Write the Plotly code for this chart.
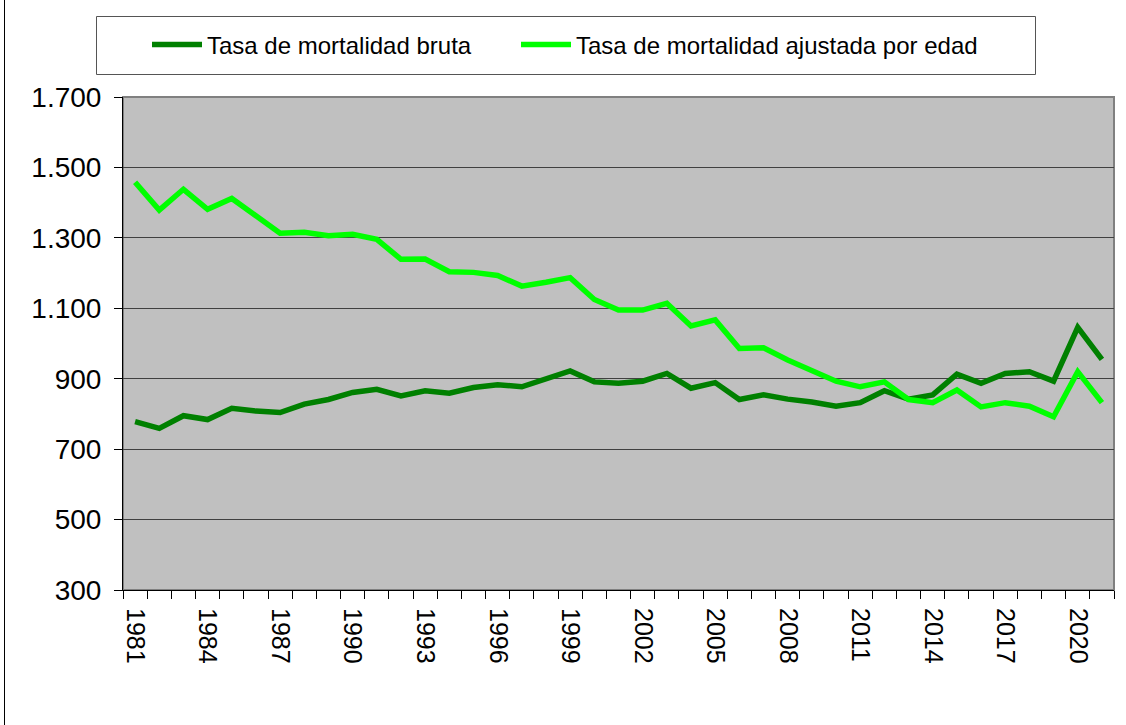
import plotly.graph_objects as go

years = list(range(1981, 2022))
tasa_bruta = [778, 759, 795, 784, 816, 808, 804, 828, 841, 861, 870, 851, 866, 859, 875, 883,
              877, 901, 922, 891, 887, 893, 915, 873, 889, 841, 854, 842, 834, 822, 832, 866,
              842, 854, 913, 887, 915, 920, 893, 1046, 955]
tasa_ajustada = [1458, 1379, 1438, 1381, 1412, 1363, 1313, 1316, 1306, 1310, 1296, 1239, 1240, 1204,
                 1202, 1193, 1163, 1174, 1187, 1125, 1095, 1095, 1114, 1050, 1067, 986, 988, 953,
                 922, 893, 877, 891, 841, 832, 868, 820, 832, 822, 792, 920, 832]
y_ticks = [300, 500, 700, 900, 1100, 1300, 1500, 1700]
x_label_years = years[::3]

W, H = 1126, 725
L, R, T, B = 123, 12, 97, 135
pw, ph = W - L - R, H - T - B

def px_x(p):
    return (p - L) / pw

def px_y(p):
    return (H - B - p) / ph

FONT = "Arial, Liberation Sans, sans-serif"
leg_common = dict(orientation="h", xanchor="left", y=px_y(45), yanchor="middle",
                  font=dict(size=24, family=FONT, color="black"),
                  bgcolor="rgba(0,0,0,0)", borderwidth=0, itemwidth=50)

fig = go.Figure()
fig.add_trace(go.Scatter(x=years, y=tasa_bruta, mode="lines", name="Tasa de mortalidad bruta",
                         line=dict(color="#008000", width=5.5), legend="legend"))
fig.add_trace(go.Scatter(x=years, y=tasa_ajustada, mode="lines", name="Tasa de mortalidad ajustada por edad",
                         line=dict(color="#00FF00", width=5.5), legend="legend2"))

fig.update_layout(
    width=W, height=H,
    margin=dict(l=L, r=R, t=T, b=B, pad=0, autoexpand=False),
    paper_bgcolor="white",
    plot_bgcolor="#C0C0C0",
    separators=",.",
    font=dict(family=FONT, color="black"),
    showlegend=True,
    legend=dict(x=px_x(147), **leg_common),
    legend2=dict(x=px_x(516), **leg_common),
    xaxis=dict(range=[1980.5, 2021.5], tickmode="array", tickvals=x_label_years,
               ticktext=[str(y) for y in x_label_years], tickangle=90,
               ticks="outside", ticklen=12, tickcolor="rgba(0,0,0,0)",
               tickfont=dict(size=25, family=FONT, color="black"),
               showgrid=False, zeroline=False,
               showline=True, linecolor="black", linewidth=1,
               minor=dict(tickmode="array", tickvals=[1980.5 + i for i in range(42)],
                          ticks="outside", ticklen=8, tickcolor="black", tickwidth=1, showgrid=False)),
    yaxis=dict(range=[300, 1700], tickmode="array", tickvals=y_ticks, tickformat=",d",
               ticks="outside", ticklen=8, tickcolor="black", tickwidth=1,
               ticklabelstandoff=7,
               tickfont=dict(size=28, family=FONT, color="black"),
               showgrid=True, gridcolor="#404040", gridwidth=1, zeroline=False,
               showline=True, linecolor="black", linewidth=1),
    shapes=[
        dict(type="rect", xref="paper", yref="paper", x0=0, x1=1, y0=0, y1=1,
             line=dict(color="#808080", width=2), layer="below"),
        dict(type="rect", xref="paper", yref="paper", x0=px_x(96.5), x1=px_x(1035.5),
             y0=px_y(74.5), y1=px_y(16.5), line=dict(color="#555555", width=1), fillcolor="white",
             layer="below"),
        dict(type="line", xref="paper", yref="paper", x0=px_x(4.5), x1=px_x(4.5), y0=-0.4, y1=1.4,
             line=dict(color="black", width=1)),
    ],
)

fig.write_html("out.html", config={"displayModeBar": False},
               post_script="document.body.style.margin='0';document.body.style.overflow='hidden';")
